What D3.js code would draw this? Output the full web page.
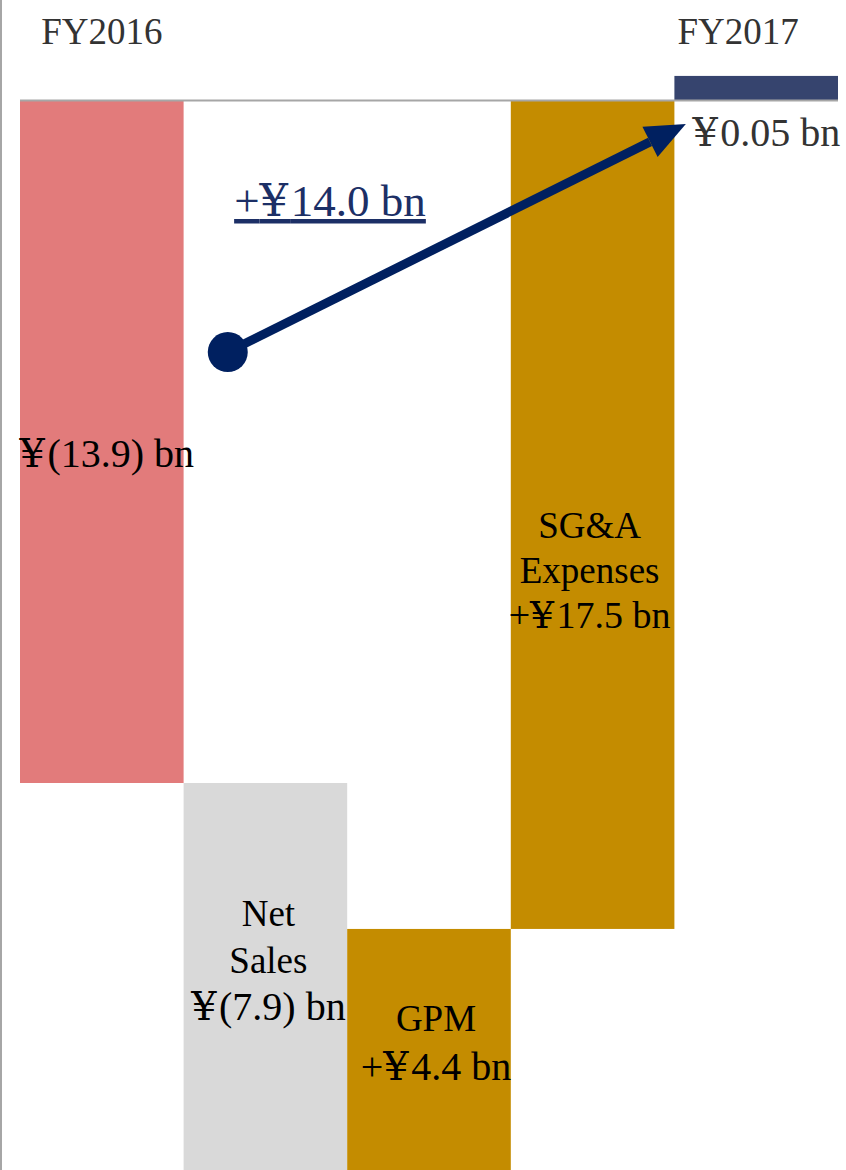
<!DOCTYPE html>
<html>
<head>
<meta charset="utf-8">
<script src="https://cdn.jsdelivr.net/npm/d3@7"></script>
<style>
  body { margin: 0; background: #fff; }
  text { font-family: "Liberation Serif", "Times New Roman", serif; }
</style>
</head>
<body>
<div id="main"></div>
<script>
// bars of the bridge, in ¥ bn (bar ends)
const categories = ["FY2016", "Net Sales", "GPM", "SG&A Expenses", "FY2017"];
const barStart = [0, -13.9, -21.8, -16.87, 0];
const barEnd = [-13.9, -21.8, -16.87, 0, 0.49];
const barColors = ["#e27b7b", "#d9d9d9", "#c48c00", "#c48c00", "#36446e"];

// labels inside the bars: name lines, then the value line
const barNames = [[], ["Net", "Sales"], ["GPM"], ["SG&A", "Expenses"], []];
const barValues = ["¥(13.9) bn", "¥(7.9) bn", "+¥4.4 bn", "+¥17.5 bn", ""];
const yearLabels = ["FY2016", "FY2017"];
const endLabel = "¥0.05 bn";
const changeLabel = "+¥14.0 bn";

// arrow from FY2016 to FY2017, in (category index, ¥ bn)
const arrowFrom = [1.27, -5.13];
const arrowTo = [4.07, -0.49];

const W = 846, H = 1170;

const svg = d3.select('#main')
    .append('svg')
    .attr('width', W)
    .attr('height', H);

const x = d3.scaleBand()
    .domain(categories)
    .range([20, 838])
    .paddingInner(0)
    .paddingOuter(0);

// same band positions as a continuous scale, for the arrow
const xi = d3.scaleLinear().domain([0, categories.length]).range([20, 838]);

const y = d3.scaleLinear()
    .domain([0, -13.9])
    .range([100, 783]);

// left border of the slide
svg.append('line')
    .attr('x1', 1).attr('x2', 1)
    .attr('y1', 0).attr('y2', H)
    .attr('stroke', '#a6a6a6')
    .attr('stroke-width', 2);

// bars
svg.selectAll('rect.bar')
    .data(categories)
    .enter()
    .append('rect')
    .attr('class', 'bar')
    .attr('x', d => x(d))
    .attr('width', x.bandwidth())
    .attr('y', (d, i) => Math.min(y(barStart[i]), y(barEnd[i])))
    .attr('height', (d, i) => Math.abs(y(barStart[i]) - y(barEnd[i])))
    .attr('fill', (d, i) => barColors[i]);

// zero line
svg.append('line')
    .attr('x1', x(categories[0]))
    .attr('x2', x(categories[4]) + x.bandwidth())
    .attr('y1', y(0) + 0.5).attr('y2', y(0) + 0.5)
    .attr('stroke', '#a6a6a6')
    .attr('stroke-width', 2);

// wider yen sign, as in the original deck
function addText(sel, str) {
    str.split(/(¥)/).forEach(part => {
        if (!part) return;
        const t = sel.append('tspan').text(part);
        if (part === '¥') t.attr('font-family', '"DejaVu Serif", serif').attr('letter-spacing', '0.06em');
    });
}

// year labels
const yearOffsets = [0, -18];
[0, 4].forEach((ci, k) => {
    svg.append('text')
        .attr('x', x(categories[ci]) + x.bandwidth() / 2 + yearOffsets[k])
        .attr('y', 44)
        .attr('text-anchor', 'middle')
        .attr('font-size', 37)
        .attr('fill', '#333')
        .text(yearLabels[k]);
});

// labels inside bars
const labelBaseline = [467, 926, 1031, 538];
const labelDx = [5, 3, 7, -3];
const lineH = [46, 47, 49, 45];
const valueSize = [40, 40, 40, 38];
barNames.forEach((lines, i) => {
    if (!barValues[i]) return;
    const cx = x(categories[i]) + x.bandwidth() / 2 + labelDx[i];
    lines.forEach((line, j) => {
        svg.append('text')
            .attr('x', cx)
            .attr('y', labelBaseline[i] + j * lineH[i])
            .attr('text-anchor', 'middle')
            .attr('font-size', 37)
            .attr('fill', '#000')
            .text(line);
    });
    const t = svg.append('text')
        .attr('x', cx)
        .attr('y', labelBaseline[i] + lines.length * lineH[i])
        .attr('text-anchor', 'middle')
        .attr('font-size', valueSize[i])
        .attr('fill', '#000');
    addText(t, barValues[i]);
});

// FY2017 value
const endT = svg.append('text')
    .attr('x', x(categories[4]) + 18)
    .attr('y', 146)
    .attr('font-size', 40)
    .attr('fill', '#333');
addText(endT, endLabel);

// arrow
const navy = '#002060';
const x0 = xi(arrowFrom[0]), y0 = y(arrowFrom[1]);
const x1 = xi(arrowTo[0]), y1 = y(arrowTo[1]);
const ang = Math.atan2(y1 - y0, x1 - x0);
const headLen = 40, headHalf = 17;
const bx = x1 - headLen * Math.cos(ang), by = y1 - headLen * Math.sin(ang);

svg.append('line')
    .attr('x1', x0).attr('y1', y0)
    .attr('x2', bx).attr('y2', by)
    .attr('stroke', navy)
    .attr('stroke-width', 9);

svg.append('path')
    .attr('d', d3.line()([
        [x1, y1],
        [bx + headHalf * Math.sin(ang), by - headHalf * Math.cos(ang)],
        [bx - headHalf * Math.sin(ang), by + headHalf * Math.cos(ang)]
    ]) + 'Z')
    .attr('fill', navy);

svg.append('circle')
    .attr('cx', x0).attr('cy', y0)
    .attr('r', 20)
    .attr('fill', navy);

// change label, underlined
const chT = svg.append('text')
    .attr('x', 330)
    .attr('y', 216)
    .attr('text-anchor', 'middle')
    .attr('font-size', 45)
    .attr('fill', '#1c2f66')
    .attr('text-decoration', 'underline');
addText(chT, changeLabel);
</script>
</body>
</html>
